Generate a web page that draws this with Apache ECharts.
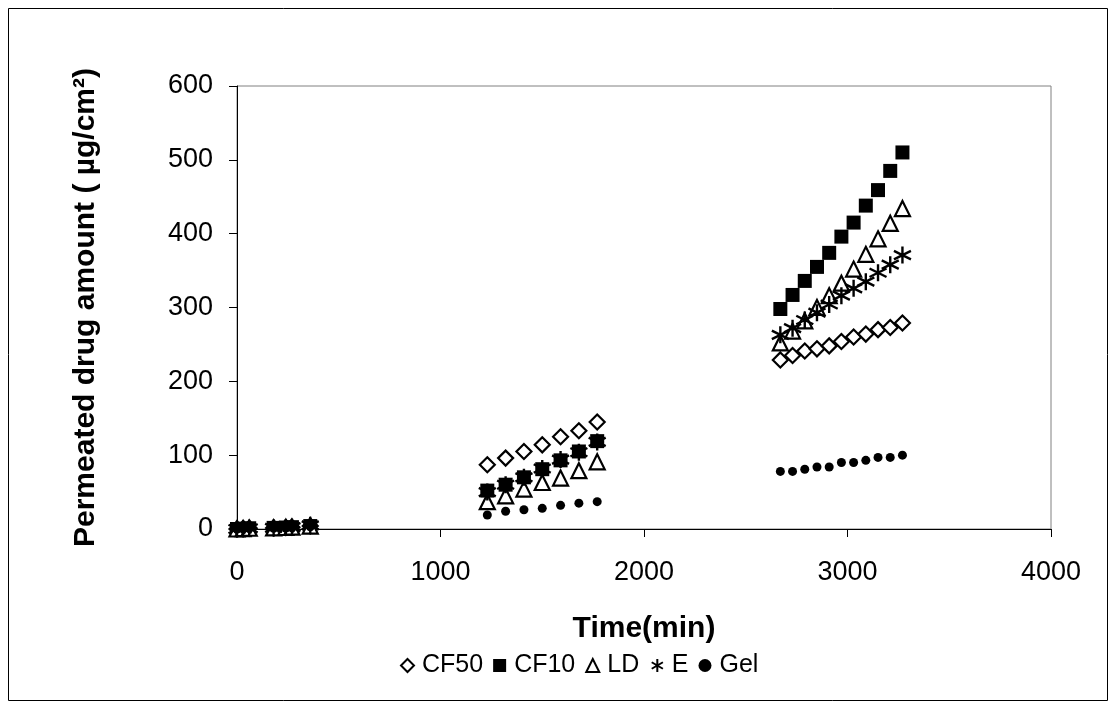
<!DOCTYPE html>
<html><head><meta charset="utf-8">
<script src="https://cdn.jsdelivr.net/npm/echarts@6/dist/echarts.min.js"></script>
<style>html,body{margin:0;padding:0;background:#fff}#c{width:1115px;height:709px}</style>
</head><body><div id="c"></div>
<script>
// time points (min)
const timeEarly = [0, 30, 60, 180, 240, 270, 360];
const timeMid = [1230, 1320, 1410, 1500, 1590, 1680, 1770];
const timeLate = [2670, 2730, 2790, 2850, 2910, 2970, 3030, 3090, 3150, 3210, 3270];
// permeated amounts (µg/cm²)
const cf50Early = [0, 0.5, 1, 1.5, 2, 2.5, 4];
const cf50Mid = [87, 96, 105, 114, 125, 133, 145];
const cf50Late = [229, 235, 241, 244, 248, 254, 260, 264, 270, 273, 279];
const cf10Early = [0, 0.5, 1, 1.5, 2, 2.5, 4];
const cf10Mid = [52, 60, 70, 81, 93, 105, 119];
const cf10Late = [298, 317, 336, 355, 374, 396, 415, 438, 459, 485, 510];
const ldEarly = [0, 0.5, 1, 1.5, 2, 2.5, 4];
const ldMid = [37, 45, 54, 63, 69, 79, 91];
const ldLate = [252, 268, 282, 300, 316, 333, 352, 372, 393, 414, 434];
const eEarly = [0, 0.5, 1, 1.5, 2, 2.5, 5];
const eMid = [50, 60, 70, 82, 94, 104, 118];
const eLate = [263, 272, 283, 293, 304, 316, 326, 335, 347, 358, 371];
const gelEarly = [0, 0.3, 0.6, 1, 1.3, 1.6, 3];
const gelMid = [19, 24, 26, 28, 32, 35, 37];
const gelLate = [78, 78, 81, 84, 84, 90, 90, 93, 97, 97, 100];
const xTicks = [0, 1000, 2000, 3000, 4000];
const yTicks = [0, 100, 200, 300, 400, 500, 600];

function pairs(e, m, l) {
  const t = timeEarly.concat(timeMid, timeLate);
  const v = e.concat(m, l);
  return t.map((x, i) => [x, v[i]]);
}
const starPath = 'path://M5,0L5,10M0.7,2.5L9.3,7.5M0.7,7.5L9.3,2.5';
const font = 'Arial, "Liberation Sans", sans-serif';

const chart = echarts.init(document.getElementById('c'));
chart.setOption({
  animation: false,
  backgroundColor: '#fff',
  graphic: [{type: 'rect', shape: {x: 8.5, y: 8.5, width: 1099, height: 692},
    style: {fill: 'none', stroke: '#000', lineWidth: 1}}],
  grid: {left: 237, top: 86, width: 814, height: 443, show: true,
    borderColor: '#808080', borderWidth: 1, backgroundColor: 'transparent'},
  xAxis: {type: 'value', min: 0, max: 4000, interval: 1000,
    name: 'Time(min)', nameLocation: 'middle', nameGap: 85,
    nameTextStyle: {fontFamily: font, fontSize: 30, fontWeight: 'bold', color: '#000'},
    axisLine: {lineStyle: {color: '#000', width: 1}},
    axisTick: {show: true, inside: false, length: 8, lineStyle: {color: '#000'}},
    axisLabel: {margin: 30, fontFamily: font, fontSize: 27, color: '#000',
      formatter: v => xTicks.includes(v) ? String(v) : ''},
    splitLine: {show: false}},
  yAxis: {type: 'value', min: 0, max: 600, interval: 100,
    name: 'Permeated drug amount ( µg/cm²)', nameLocation: 'middle', nameGap: 136,
    nameTextStyle: {fontFamily: font, fontSize: 30, fontWeight: 'bold', color: '#000'},
    axisLine: {show: true, lineStyle: {color: '#000', width: 1}},
    axisTick: {show: true, inside: false, length: 8, lineStyle: {color: '#000'}},
    axisLabel: {margin: 24, fontFamily: font, fontSize: 27, color: '#000',
      formatter: v => yTicks.includes(v) ? String(v) : ''},
    splitLine: {show: false}},
  legend: {bottom: 26, left: 395, itemWidth: 13, itemHeight: 13, itemGap: 10,
    textStyle: {fontFamily: font, fontSize: 25, color: '#000', padding: [0, 0, 0, 3]},
    data: ['CF50', 'CF10', 'LD', 'E', 'Gel']},
  series: [
    {name: 'CF50', type: 'scatter', symbol: 'diamond', symbolSize: 15,
      itemStyle: {color: '#fff', borderColor: '#000', borderWidth: 2.2, opacity: 1},
      data: pairs(cf50Early, cf50Mid, cf50Late)},
    {name: 'CF10', type: 'scatter', symbol: 'rect', symbolSize: 14,
      itemStyle: {color: '#000', opacity: 1},
      data: pairs(cf10Early, cf10Mid, cf10Late)},
    {name: 'LD', type: 'scatter', symbol: 'triangle', symbolSize: 15,
      itemStyle: {color: '#fff', borderColor: '#000', borderWidth: 2.2, opacity: 1},
      data: pairs(ldEarly, ldMid, ldLate)},
    {name: 'E', type: 'scatter', symbol: starPath, symbolSize: 17,
      itemStyle: {color: 'none', borderColor: '#000', borderWidth: 2.4, opacity: 1},
      data: pairs(eEarly, eMid, eLate)},
    {name: 'Gel', type: 'scatter', symbol: 'circle', symbolSize: 9,
      itemStyle: {color: '#000', opacity: 1},
      data: pairs(gelEarly, gelMid, gelLate)}
  ]
});
</script></body></html>
